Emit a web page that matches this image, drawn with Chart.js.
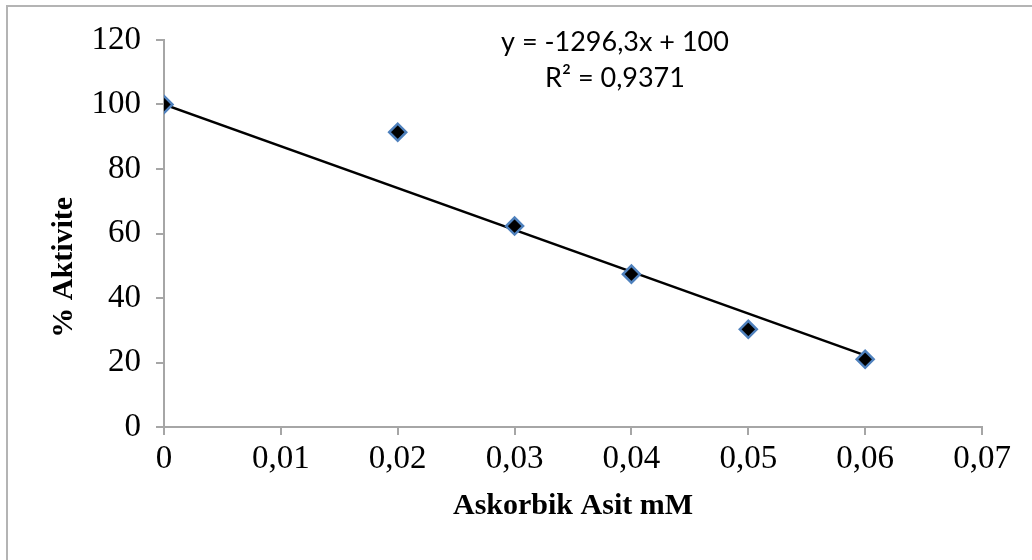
<!DOCTYPE html>
<html>
<head>
<meta charset="utf-8">
<title>Askorbik Asit - % Aktivite</title>
<script src="https://cdn.jsdelivr.net/npm/chart.js@4.4.0/dist/chart.umd.min.js"></script>
<style>
  html, body { margin: 0; padding: 0; background: #fff; overflow: hidden; }
  #wrap { width: 1032px; height: 560px; }
</style>
</head>
<body>
<div id="wrap"><canvas id="chart" width="1032" height="560"></canvas></div>
<script>
// Values
const concentrations = [0, 0.02, 0.03, 0.04, 0.05, 0.06];
const activity = [100, 91.4, 62.3, 47.4, 30.3, 21.0];

// Linear trendline end points (y = -1296,3x + 100)
const trendX = [0, 0.06];
const trendY = [100, 22.2];

const xTickValues = [0, 0.01, 0.02, 0.03, 0.04, 0.05, 0.06, 0.07];
const yTickValues = [0, 20, 40, 60, 80, 100, 120];

const equationLines = ['y = -1296,3x + 100', 'R² = 0,9371'];
const xTitle = 'Askorbik Asit mM';
const yTitle = '% Aktivite';

const axisGray = '#a6a6a6';
const serif = "'Liberation Serif', 'Times New Roman', serif";

// decimal comma like the original
function fmtX(v) {
  return v === 0 ? '0' : v.toFixed(2).replace('.', ',');
}

// Frame + equation text
const extras = {
  id: 'extras',
  beforeDraw(chart) {
    const ctx = chart.ctx;
    ctx.save();
    ctx.fillStyle = '#fff';
    ctx.fillRect(0, 0, chart.width, chart.height);
    ctx.strokeStyle = '#b4b4b4';
    ctx.lineWidth = 2;
    ctx.beginPath();
    ctx.moveTo(7, chart.height);
    ctx.lineTo(7, 6);
    ctx.lineTo(chart.width, 6);
    ctx.stroke();
    ctx.restore();
  },
  afterDraw(chart) {
    const ctx = chart.ctx;
    ctx.save();
    ctx.fillStyle = '#000';
    ctx.font = "27px Lato, 'Open Sans', sans-serif";
    ctx.textAlign = 'center';
    ctx.textBaseline = 'middle';
    ctx.fillText(equationLines[0], 615, 42);
    ctx.fillText(equationLines[1], 615, 78);
    ctx.restore();
  }
};

new Chart(document.getElementById('chart'), {
  type: 'scatter',
  data: {
    datasets: [
      {
        label: 'Aktivite',
        data: concentrations.map((x, i) => ({ x: x, y: activity[i] })),
        pointStyle: 'rectRot',
        pointRadius: 8.5,
        pointBackgroundColor: '#000',
        pointBorderColor: '#4f81bd',
        pointBorderWidth: 2.5,
        showLine: false
      },
      {
        type: 'line',
        label: 'Trend',
        data: trendX.map((x, i) => ({ x: x, y: trendY[i] })),
        borderColor: '#000',
        borderWidth: 2.5,
        pointRadius: 0,
        fill: false
      }
    ]
  },
  options: {
    responsive: false,
    animation: false,
    layout: { padding: { left: 0, top: 40, right: 50, bottom: 0 } },
    plugins: {
      legend: { display: false },
      tooltip: { enabled: false }
    },
    scales: {
      x: {
        type: 'linear',
        min: 0,
        max: 0.07,
        afterFit(scale) { scale.height = 133; },
        afterBuildTicks(scale) { scale.ticks = xTickValues.map(v => ({ value: v })); },
        grid: { drawOnChartArea: false, drawTicks: true, tickLength: 8, color: axisGray, lineWidth: 2 },
        border: { color: axisGray, width: 2 },
        ticks: {
          font: { family: serif, size: 33 },
          color: '#000',
          padding: 5,
          maxRotation: 0,
          autoSkip: false,
          callback: (v) => fmtX(v)
        },
        title: {
          display: true,
          text: xTitle,
          color: '#000',
          font: { family: serif, size: 30, weight: 'bold' },
          padding: { top: 0, bottom: 36 }
        }
      },
      y: {
        type: 'linear',
        min: 0,
        max: 120,
        afterFit(scale) { scale.width = 164; },
        afterBuildTicks(scale) { scale.ticks = yTickValues.map(v => ({ value: v })); },
        grid: { drawOnChartArea: false, drawTicks: true, tickLength: 8, color: axisGray, lineWidth: 2 },
        border: { color: axisGray, width: 2 },
        ticks: {
          font: { family: serif, size: 33 },
          color: '#000',
          padding: 15
        },
        title: {
          display: true,
          // trailing spaces push the title a bit below the axis middle, as in the original
          text: yTitle + ' '.repeat(9),
          color: '#000',
          font: { family: serif, size: 30, weight: 'bold' },
          padding: { top: 46, bottom: 0 }
        }
      }
    }
  },
  plugins: [extras]
});
</script>
</body>
</html>
